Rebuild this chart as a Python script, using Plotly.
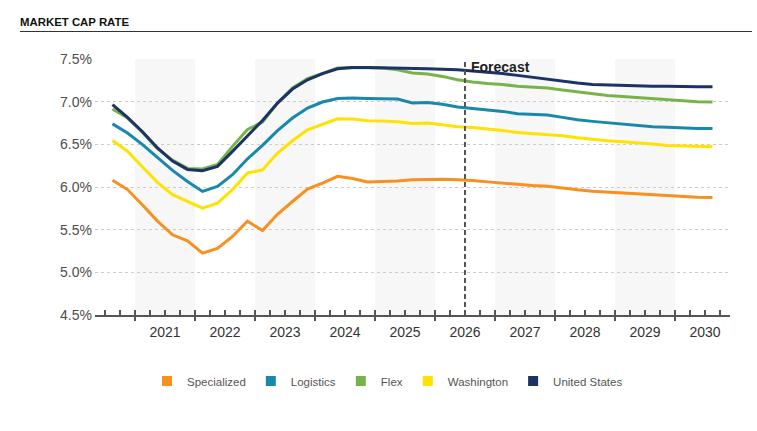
import plotly.graph_objects as go

# ---------------- data ----------------
quarters = [
    "2020Q3", "2020Q4",
    "2021Q1", "2021Q2", "2021Q3", "2021Q4",
    "2022Q1", "2022Q2", "2022Q3", "2022Q4",
    "2023Q1", "2023Q2", "2023Q3", "2023Q4",
    "2024Q1", "2024Q2", "2024Q3", "2024Q4",
    "2025Q1", "2025Q2", "2025Q3", "2025Q4",
    "2026Q1", "2026Q2", "2026Q3", "2026Q4",
    "2027Q1", "2027Q2", "2027Q3", "2027Q4",
    "2028Q1", "2028Q2", "2028Q3", "2028Q4",
    "2029Q1", "2029Q2", "2029Q3", "2029Q4",
    "2030Q1", "2030Q2", "2030Q3",
]

specialized = [6.08, 5.97, 5.79, 5.60, 5.44, 5.37, 5.225, 5.28, 5.42, 5.60,
               5.49, 5.68, 5.83, 5.975, 6.045, 6.125, 6.10, 6.06, 6.065, 6.07,
               6.085, 6.09, 6.09, 6.085, 6.077, 6.06, 6.045, 6.026, 6.018, 6.01,
               5.987, 5.967, 5.95, 5.94, 5.93, 5.918, 5.905, 5.893, 5.885, 5.88,
               5.877]
logistics = [6.74, 6.632, 6.497, 6.345, 6.195, 6.065, 5.948, 6.007, 6.144, 6.33,
             6.487, 6.66, 6.808, 6.925, 6.996, 7.038, 7.043, 7.038, 7.038, 7.03,
             6.984, 6.99, 6.97, 6.937, 6.92, 6.906, 6.886, 6.859, 6.85, 6.843,
             6.816, 6.788, 6.769, 6.753, 6.738, 6.722, 6.706, 6.70, 6.691, 6.687,
             6.687]
flex = [6.915, 6.808, 6.64, 6.45, 6.315, 6.218, 6.212, 6.265, 6.476, 6.675,
        6.76, 6.984, 7.16, 7.27, 7.33, 7.394, 7.40, 7.40, 7.394, 7.375,
        7.336, 7.324, 7.296, 7.257, 7.23, 7.214, 7.202, 7.18, 7.167, 7.16,
        7.136, 7.113, 7.09, 7.073, 7.062, 7.05, 7.035, 7.02, 7.008, 7.0,
        6.996]
washington = [6.545, 6.42, 6.235, 6.055, 5.91, 5.835, 5.753, 5.81, 5.968, 6.165,
              6.20, 6.398, 6.542, 6.671, 6.738, 6.80, 6.797, 6.777, 6.773, 6.765,
              6.745, 6.75, 6.73, 6.706, 6.698, 6.683, 6.663, 6.64, 6.628, 6.62,
              6.60, 6.577, 6.557, 6.542, 6.53, 6.519, 6.503, 6.487, 6.48, 6.476,
              6.472]
united_states = [6.966, 6.815, 6.648, 6.457, 6.304, 6.206, 6.19, 6.241, 6.417, 6.60,
                 6.78, 6.984, 7.148, 7.257, 7.328, 7.386, 7.40, 7.40, 7.398, 7.394,
                 7.386, 7.386, 7.38, 7.375, 7.36, 7.347, 7.331, 7.308, 7.284, 7.265,
                 7.238, 7.218, 7.202, 7.195, 7.187, 7.183, 7.18, 7.18, 7.175, 7.175,
                 7.175]

series_names = ["Specialized", "Logistics", "Flex", "Washington", "United States"]
series_values = [specialized, logistics, flex, washington, united_states]
series_colors = ["#F7901E", "#1A88AD", "#78B34A", "#FFE200", "#1B3366"]

year_labels = ["2021", "2022", "2023", "2024", "2025", "2026", "2027", "2028", "2029", "2030"]
shaded_years = [2021, 2023, 2025, 2027, 2029]
y_ticks = [4.5, 5.0, 5.5, 6.0, 6.5, 7.0, 7.5]
forecast_start = "2026Q3"  # forecast begins with this quarter
title_text = "MARKET CAP RATE"

# ---------------- helpers ----------------
def q_to_x(label):
    """Quarter label -> fractional year at the middle of the quarter."""
    yr, q = label.split("Q")
    return int(yr) + (int(q) - 0.5) / 4.0

x_vals = [q_to_x(q) for q in quarters]
for s in series_values:
    assert len(s) == len(quarters)

fyr, fq = forecast_start.split("Q")
forecast_x = int(fyr) + (int(fq) - 1) / 4.0
year_ticks = [int(y) for y in year_labels]

FONT = "Liberation Sans, Arial, sans-serif"
AX = "#555555"
x_range = [2020 + 1 / 3, 2030 + 11 / 12]

W, H = 757, 431
ML, MR, MT, MB = 95, 27, 59, 116
PH = H - MT - MB
PW = W - ML - MR


def py(pix):  # pixel row -> paper y
    return (H - MB - pix) / PH


def px(pix):  # pixel column -> paper x
    return (pix - ML) / PW


fig = go.Figure()

for name, vals, col in zip(series_names, series_values, series_colors):
    fig.add_trace(go.Scatter(
        x=x_vals, y=vals, mode="lines", name=name,
        line=dict(color=col, width=3), showlegend=False, hoverinfo="x+y+name",
    ))

# legend entries (square swatches)
for name, col in zip(series_names, series_colors):
    fig.add_trace(go.Scatter(
        x=[None], y=[None], mode="markers", name=name, xaxis="x2",
        marker=dict(symbol="square", size=10, color=col), showlegend=True,
    ))
# helper trace so the outside major-tick axis is drawn
fig.add_trace(go.Scatter(x=[None], y=[None], mode="markers", xaxis="x3",
                         showlegend=False, hoverinfo="skip"))

shapes = []
for yr in shaded_years:
    shapes.append(dict(type="rect", xref="x", yref="paper", x0=yr, x1=yr + 1,
                       y0=0, y1=1, fillcolor="#f7f7f7", line=dict(width=0),
                       layer="below"))
shapes.append(dict(type="line", xref="x", yref="paper", x0=forecast_x, x1=forecast_x,
                   y0=0, y1=1, line=dict(color=AX, width=2, dash="5px,3px"),
                   layer="above"))
shapes.append(dict(type="line", xref="paper", yref="paper", x0=px(20), x1=px(752),
                   y0=py(31.5), y1=py(31.5), line=dict(color="#333333", width=1)))

tick_axis_common = dict(
    range=x_range, overlaying="x", anchor="y", side="bottom",
    tickmode="array", tickvals=year_ticks, ticklen=5, tickwidth=2, tickcolor=AX,
    showticklabels=False, showline=False, showgrid=False, zeroline=False,
    fixedrange=True,
)

fig.update_layout(
    width=W, height=H, autosize=False,
    margin=dict(l=ML, r=MR, t=MT, b=MB),
    paper_bgcolor="white", plot_bgcolor="white",
    font=dict(family=FONT),
    title=dict(text="<b>" + title_text + "</b>", x=20 / W, xref="container",
               xanchor="left", y=1 - 22 / H, yref="container", yanchor="middle",
               font=dict(size=11.4, color="#111111", family=FONT)),
    shapes=shapes,
    annotations=[dict(x=forecast_x, xref="x", y=py(66.5), yref="paper",
                      xanchor="left", yanchor="middle", xshift=4,
                      text="<b>Forecast</b>", showarrow=False,
                      font=dict(size=14, color="#222222", family=FONT))],
    xaxis=dict(
        range=x_range, tickmode="array",
        tickvals=year_ticks, ticktext=year_labels,
        ticks="", ticklabelshift=30, ticklabelstandoff=3,
        showline=True, linecolor=AX, linewidth=2,
        showgrid=False, zeroline=False,
        tickfont=dict(size=14, color="#333333", family=FONT),
        minor=dict(tick0=2020, dtick=0.25, ticks="inside", ticklen=5,
                   tickwidth=1.5, tickcolor=AX, showgrid=False),
        fixedrange=True,
    ),
    xaxis2=dict(ticks="inside", **tick_axis_common),
    xaxis3=dict(ticks="outside", **tick_axis_common),
    yaxis=dict(
        range=[4.5, 7.5], tickmode="array", tickvals=y_ticks,
        ticktext=[f"{v:.1f}%" for v in y_ticks],
        showgrid=True, gridcolor="#cccccc", griddash="dot", gridwidth=1,
        zeroline=False, showline=False, ticks="",
        ticklabelstandoff=2,
        tickfont=dict(size=14, color="#4d4d4d", family=FONT),
        fixedrange=True,
    ),
    legend=dict(orientation="h", x=px(147), xanchor="left", y=py(381),
                yanchor="middle", font=dict(size=11.5, color="#555555", family=FONT),
                bgcolor="rgba(0,0,0,0)", traceorder="normal"),
    hovermode="closest",
)

fig.write_html(
    "out.html",
    config={"displayModeBar": False},
    post_script="document.body.style.margin='0';document.body.style.padding='0';",
)
